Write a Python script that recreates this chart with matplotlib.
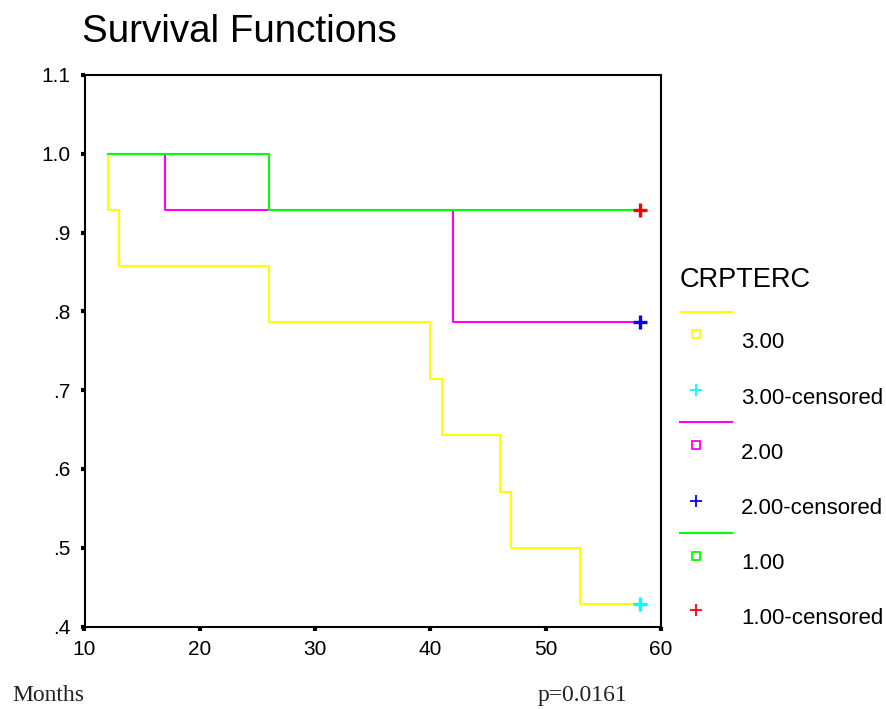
import matplotlib
matplotlib.use("Agg")
import matplotlib.pyplot as plt
from matplotlib.lines import Line2D

plt.rcParams['font.family'] = ['Liberation Sans', 'DejaVu Sans']

# --- Kaplan-Meier data (Months, survival) ---
groups = ['3.00', '2.00', '1.00']
start_time = 12
event_times = {
    '3.00': [12, 13, 26, 40, 41, 46, 47, 53],
    '2.00': [17, 42],
    '1.00': [26],
}
survival = {
    '3.00': [0.929, 0.857, 0.786, 0.714, 0.643, 0.571, 0.500, 0.429],
    '2.00': [0.929, 0.786],
    '1.00': [0.929],
}
censor_time = {'3.00': 58.2, '2.00': 58.2, '1.00': 58.2}
line_colors = {'3.00': '#ffff00', '2.00': '#ff00ff', '1.00': '#00ff00'}
censor_colors = {'3.00': '#00ffff', '2.00': '#0000ff', '1.00': '#ff0000'}

W, H = 886, 709
fig = plt.figure(figsize=(W / 100, H / 100), dpi=100)


def fx(x):
    return x / W


def fy(y):
    return 1 - y / H


ax = fig.add_axes([fx(84.5), fy(626.5), (661 - 84.5) / W, (626.5 - 75) / H])

for g in groups:
    xs = [start_time] + event_times[g] + [censor_time[g]]
    ys = [1.0] + survival[g] + [survival[g][-1]]
    ax.step(xs, ys, where='post', color=line_colors[g], lw=1.5, zorder=2)
    ax.plot([censor_time[g]], [survival[g][-1]], marker='+', ms=9.5, mew=2.4,
            color=censor_colors[g], ls='none', zorder=3)

ax.set_xlim(10, 60)
ax.set_ylim(0.4, 1.1)
ax.set_xticks([10, 20, 30, 40, 50, 60])
ax.set_yticks([0.4, 0.5, 0.6, 0.7, 0.8, 0.9, 1.0, 1.1])
ax.set_yticklabels(['.4', '.5', '.6', '.7', '.8', '.9', '1.0', '1.1'])
ax.tick_params(direction='out', length=3, width=3, labelsize=15, color='black')
ax.tick_params(axis='y', pad=7)
ax.tick_params(axis='x', pad=7)
for s in ax.spines.values():
    s.set_linewidth(1.5)

# title
fig.text(fx(82), fy(42), 'Survival Functions', fontsize=27.7, va='baseline', ha='left')

# legend drawn by hand (SPSS layout)
fig.text(fx(680), fy(287), 'CRPTERC', fontsize=19.5, va='baseline', ha='left')
line_y = [312, 422, 533]
square_y = [334, 445, 556]
plus_y = [390, 501, 610]
label_y = [340, 451, 561]
cens_label_y = [396, 506, 616]
for i, g in enumerate(groups):
    fig.add_artist(Line2D([fx(680), fx(732)], [fy(line_y[i])] * 2,
                          color=line_colors[g], lw=1.5))
    fig.add_artist(Line2D([fx(696)], [fy(square_y[i])], marker='s', ms=5.5,
                          mfc='none', mec=line_colors[g], mew=1.3, ls='none'))
    fig.add_artist(Line2D([fx(696)], [fy(plus_y[i])], marker='+', ms=8,
                          color=censor_colors[g], mew=1.3, ls='none'))
    fig.text(fx(741), fy(label_y[i] + 8), g, fontsize=16, va='baseline')
    fig.text(fx(741), fy(cens_label_y[i] + 8), g + '-censored', fontsize=16,
             va='baseline')

# footer
fig.text(fx(12), fy(701), 'Months', fontsize=17, family='Liberation Serif',
         color='#222222', va='baseline')
fig.text(fx(538), fy(701), 'p=0.0161', fontsize=17, family='Liberation Serif',
         color='#222222', va='baseline')

fig.savefig('out.png', dpi=100)
